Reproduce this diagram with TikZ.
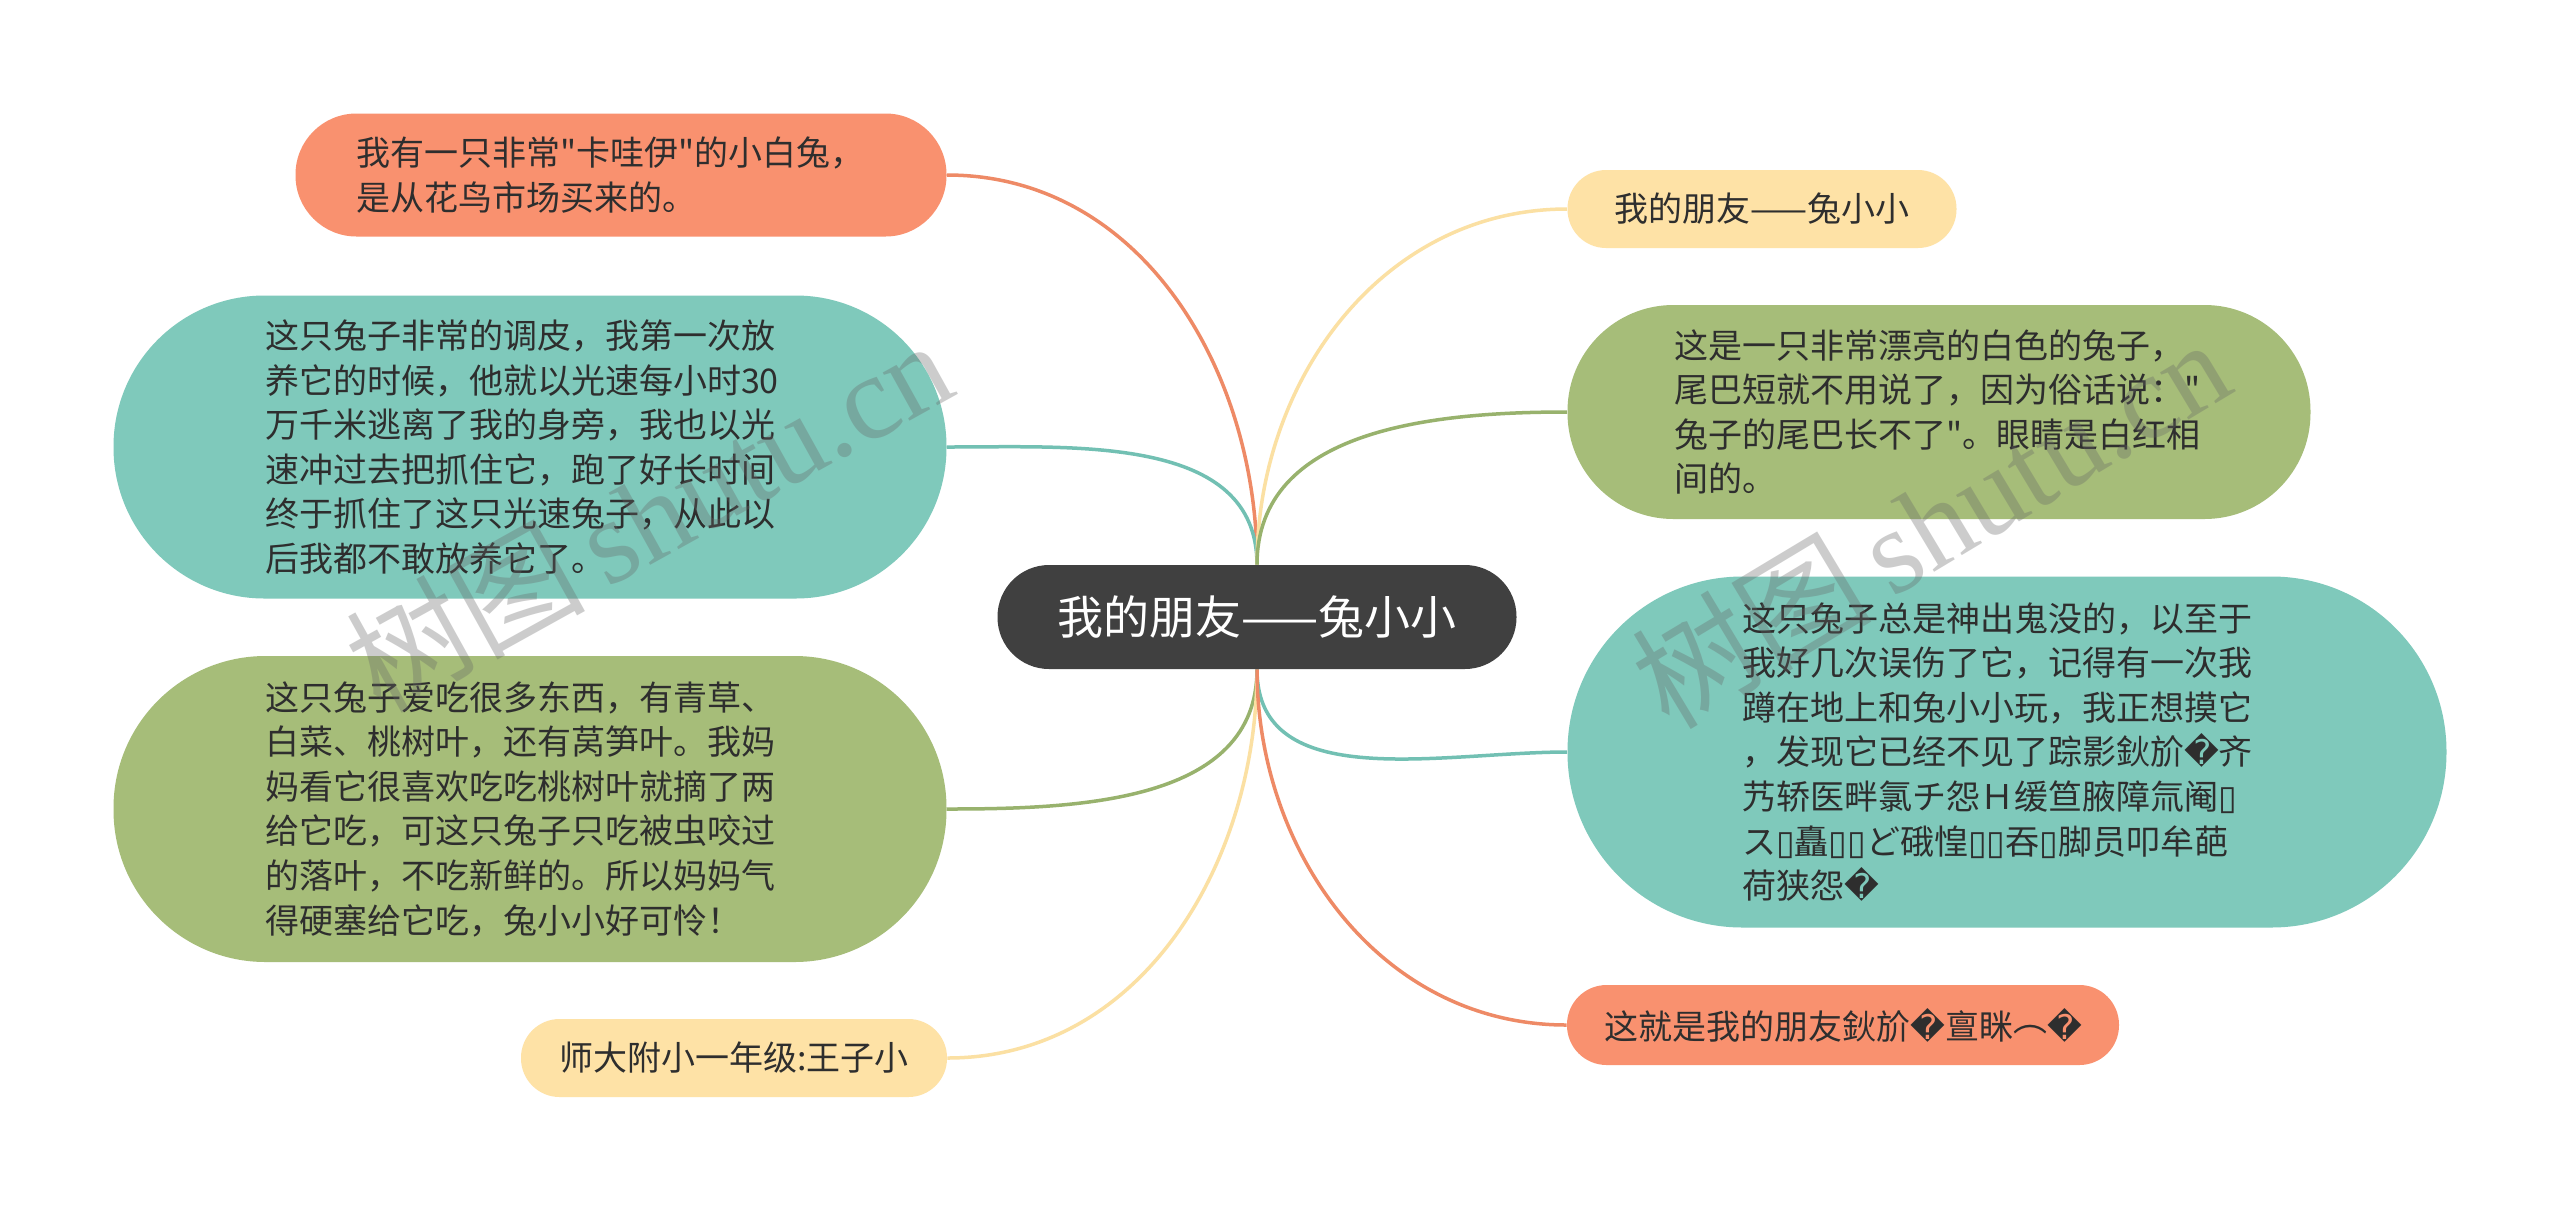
\documentclass[tikz,border=0pt]{standalone}
\usepackage{fontspec}
\setmainfont{Noto Sans CJK SC}
\newfontfamily\dejavu{DejaVu Sans}
\newfontfamily\wmlat{Liberation Serif}
\usetikzlibrary{backgrounds}
\definecolor{txt}{HTML}{2E2E2E}
\definecolor{forange}{HTML}{F9916F}
\definecolor{fteal}{HTML}{7FC9BB}
\definecolor{fgreen}{HTML}{A6BD79}
\definecolor{fyellow}{HTML}{FEE2A6}
\definecolor{fdark}{HTML}{404040}
\definecolor{corange}{HTML}{EE8A66}
\definecolor{cteal}{HTML}{72C0B3}
\definecolor{cgreen}{HTML}{98B26D}
\definecolor{cyellow}{HTML}{FBE0A3}
\newcommand\rep{{\dejavu �}}
\newcommand\tofu{{\dejavu ▯}}
\newcommand\qq{\textquotedbl}
\newcommand\fs{\fontsize{17pt}{22.3pt}\selectfont}
\newcommand\fsc{\fontsize{23pt}{28pt}\selectfont}
\tikzset{
  box/.style={rectangle, inner sep=0pt, text=txt, font=\fs},
  para/.style={box, text width=265pt, align=left},
  conn/.style={line width=1.75pt},
  wm/.style={text=black!60, text opacity=0.33, inner sep=0pt}
}
\begin{document}
\begin{tikzpicture}[x=0.5pt,y=-0.5pt]
\useasboundingbox (0,0) rectangle (2560,1212);

% central
\node[box, fill=fdark, text=white, font=\fsc, minimum width=259.5pt, minimum height=52pt, rounded corners=25.8pt] (c) at (1257,617) {我的朋友——兔小小};

% left
\node[para, fill=forange, minimum width=325.5pt, minimum height=61.5pt, rounded corners=30.5pt] (n1) at (621,175) {我有一只非常\qq 卡哇伊\qq 的小白兔，\\是从花鸟市场买来的。};
\node[para, fill=fteal, minimum width=416.5pt, minimum height=151.5pt, rounded corners=75.5pt] (n2) at (530,447) {这只兔子非常的调皮，我第一次放\\养它的时候，他就以光速每小时30\\万千米逃离了我的身旁，我也以光\\速冲过去把抓住它，跑了好长时间\\终于抓住了这只光速兔子，从此以\\后我都不敢放养它了。};
\node[para, fill=fgreen, minimum width=416.5pt, minimum height=153pt, rounded corners=76pt] (n3) at (530,809) {这只兔子爱吃很多东西，有青草、\\白菜、桃树叶，还有莴笋叶。我妈\\妈看它很喜欢吃吃桃树叶就摘了两\\给它吃，可这只兔子只吃被虫咬过\\的落叶，不吃新鲜的。所以妈妈气\\得硬塞给它吃，兔小小好可怜！};
\node[box, fill=fyellow, minimum width=213pt, minimum height=39pt, rounded corners=19.3pt] (n4) at (734,1058) {师大附小一年级:王子小};

% right
\node[box, fill=fyellow, minimum width=194.5pt, minimum height=39pt, rounded corners=19.3pt] (r1) at (1762,209) {我的朋友——兔小小};
\node[para, fill=fgreen, minimum width=371.5pt, minimum height=107pt, rounded corners=53pt] (r2) at (1939,412) {这是一只非常漂亮的白色的兔子，\\尾巴短就不用说了，因为俗话说：\qq\\兔子的尾巴长不了\qq 。眼睛是白红相\\间的。};
\node[para, fill=fteal, minimum width=439.5pt, minimum height=175.5pt, rounded corners=87.5pt] (r3) at (2007,752) {这只兔子总是神出鬼没的，以至于\\我好几次误伤了它，记得有一次我\\蹲在地上和兔小小玩，我正想摸它\\，发现它已经不见了踪影鈥斺\rep 齐\\艿轿医畔氯チ怨Ｈ缓笪腋障氚阉\tofu\\ス\tofu 矗\tofu\tofu ど硪惶\tofu\tofu 吞\tofu 脚员叩牟葩\\荷狭怨\rep};
\node[box, fill=forange, minimum width=276pt, minimum height=40pt, rounded corners=19.8pt] (r4) at (1843,1025) {这就是我的朋友鈥斺\rep 亶眯\raisebox{0.22em}{︵}\rep};

% connectors
\begin{scope}[on background layer]
\fill[white] (0,0) rectangle (2560,1212);
\draw[conn, corange] (c.north) to[out=90,in=0] (n1.east);
\draw[conn, cteal] (c.north) to[out=90,in=0] (n2.east);
\draw[conn, cyellow] (c.north) to[out=90,in=180] (r1.west);
\draw[conn, cgreen] (c.north) to[out=90,in=180] (r2.west);
\draw[conn, cgreen] (c.south) to[out=-90,in=0] (n3.east);
\draw[conn, cyellow] (c.south) to[out=-90,in=0] (n4.east);
\draw[conn, cteal] (c.south) to[out=-90,in=180] (r3.west);
\draw[conn, corange] (c.south) to[out=-90,in=180] (r4.west);
\end{scope}

% watermarks
\node[wm, rotate=29] (w1) at (648,514) {\fontsize{60pt}{60pt}\selectfont 树图\,{\wmlat shutu.cn}};
\node[wm, rotate=31] (w2) at (1930,522) {\fontsize{60pt}{60pt}\selectfont 树图\,{\wmlat shutu.cn}};
\end{tikzpicture}
\end{document}
